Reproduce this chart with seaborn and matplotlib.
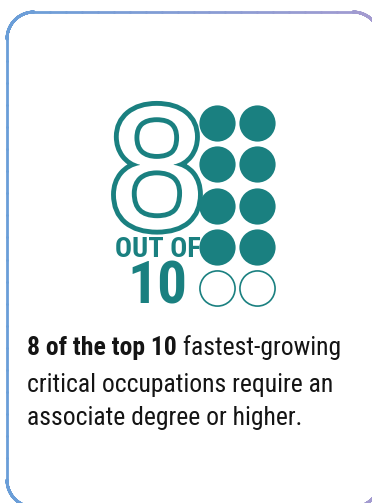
import numpy as np
import matplotlib
matplotlib.use("Agg")
import matplotlib.pyplot as plt
import seaborn as sns
import pandas as pd
from matplotlib import font_manager
from matplotlib.collections import LineCollection
from matplotlib.colors import LinearSegmentedColormap
import matplotlib.patheffects as pe

# ---- data ----
total_count = 10
highlight_count = 8
big_number = "8"
out_of_label = "OUT OF"
total_label = "10"
caption_bold = "8 of the top 10"
caption_lines = [" fastest-growing", "critical occupations require an",
                 "associate degree or higher."]

TEAL = "#1a8080"
INK = "#141414"

# pick a narrow grotesque (with a bold weight) if one is around
names = {f.name for f in font_manager.fontManager.ttflist}
NARROW = next((n for n in ["Liberation Sans Narrow", "Roboto Condensed",
                           "PT Sans Narrow"] if n in names), "DejaVu Sans")

sns.set_theme(style="white")
plt.rcParams["font.family"] = [NARROW, "DejaVu Sans"]

fig = plt.figure(figsize=(3.72, 5.03), dpi=100)
ax = fig.add_axes([0, 0, 1, 1])

# ---- dots: 2 columns x 5 rows ----
idx = np.arange(total_count)
dots = pd.DataFrame({
    "x": 217 + 40 * (idx % 2),
    "y": 123 + 41.3 * (idx // 2),
    "filled": idx < highlight_count,
})
sns.scatterplot(data=dots[dots.filled], x="x", y="y", s=680, color=TEAL,
                edgecolor=TEAL, linewidth=0, ax=ax, legend=False, zorder=3)
sns.scatterplot(data=dots[~dots.filled], x="x", y="y", s=640, color="white",
                edgecolor=TEAL, linewidth=1.2, ax=ax, legend=False, zorder=3)
ax.set_xlim(0, 372)
ax.set_ylim(503, 0)
ax.set_xlabel("")
ax.set_ylabel("")
ax.axis("off")

# ---- rounded card border with blue -> lavender gradient ----
x0, y0, x1, y1, r = 7, 12, 380, 507, 27
pts = []
for cx, cy, a0 in [(x1 - r, y0 + r, -90), (x1 - r, y1 - r, 0),
                   (x0 + r, y1 - r, 90), (x0 + r, y0 + r, 180)]:
    t = np.radians(np.linspace(a0, a0 + 90, 30))
    pts.append(np.column_stack([cx + r * np.cos(t), cy + r * np.sin(t)]))
pts = np.vstack(pts + [pts[0][:1]])
dense = np.vstack([np.linspace(a, b, 20, endpoint=False)
                   for a, b in zip(pts[:-1], pts[1:])] + [pts[-1:]])
segs = np.stack([dense[:-1], dense[1:]], axis=1)
cmap = LinearSegmentedColormap.from_list("card", ["#6a9ed8", "#a59bd0"])
ax.add_collection(LineCollection(segs, colors=cmap((segs[:, 0, 0] - x0) / (x1 - x0)),
                                 linewidths=2.0, capstyle="round"))

fig.canvas.draw()
renderer = fig.canvas.get_renderer()


def fit(txt, width):
    """scale a text's font size so its box gets the wanted pixel width"""
    bb = txt.get_window_extent(renderer)
    txt.set_fontsize(txt.get_fontsize() * width / bb.width)
    return txt


# ---- big outlined 8, OUT OF, 10 ----
ax.text(157, 228, big_number, fontsize=126, color="white",
        family=["Liberation Sans", "DejaVu Sans"],
        ha="center", va="baseline", zorder=4,
        path_effects=[pe.withStroke(linewidth=7, foreground=TEAL)])
tout = ax.text(201, 257, out_of_label, fontsize=20, fontweight="bold", color=TEAL,
               ha="right", va="baseline", zorder=4)
fit(tout, 86)
t10 = ax.text(157, 303, total_label, fontsize=40, fontweight="bold", color=TEAL,
              ha="center", va="baseline", zorder=4)
fit(t10, 60)

# ---- caption ----
tb = ax.text(27, 355, caption_bold, fontsize=15, fontweight="bold",
             color=INK, va="baseline")
tr = ax.text(0, 355, caption_lines[0], fontsize=15, color=INK, va="baseline")
t2 = ax.text(27, 392, caption_lines[1], fontsize=15, color=INK, va="baseline")
t3 = ax.text(27, 425, caption_lines[2], fontsize=15, color=INK, va="baseline")
fit(t2, 306)
for t in (tb, tr, t3):
    t.set_fontsize(t2.get_fontsize())
fig.canvas.draw()
bb = tb.get_window_extent(renderer)
tr.set_x(ax.transData.inverted().transform((bb.x1, 0))[0])

fig.savefig("out.png", dpi=100)
